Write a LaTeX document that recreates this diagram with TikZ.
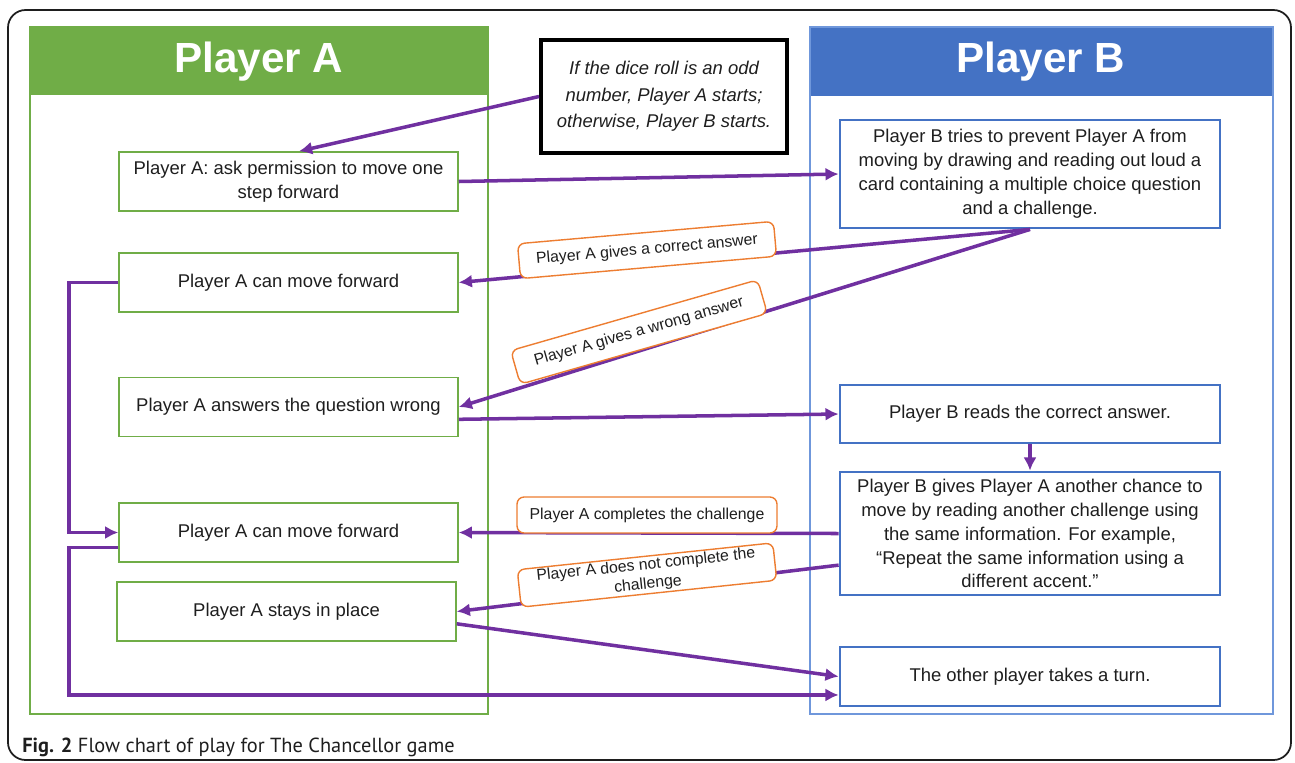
\documentclass[tikz,border=0pt]{standalone}
\usepackage{fontspec}
\setmainfont{Liberation Sans}
\newfontfamily\capfont{PT Sans}
\usetikzlibrary{arrows.meta}

\definecolor{agreen}{HTML}{70AD47}
\definecolor{bblue}{HTML}{4472C4}
\definecolor{bline}{HTML}{6F97DB}
\definecolor{fpurple}{HTML}{7030A0}
\definecolor{lorange}{HTML}{ED7D31}
\definecolor{ink}{HTML}{1E1E1E}

\begin{document}
\begin{tikzpicture}[x=.02cm,y=-.02cm,>={Latex[length=7.5pt,width=7.5pt]},
  txt/.style={font=\fontsize{10.5}{13.6}\selectfont,text=ink,align=center},
  abox/.style={txt,draw=agreen,line width=.9pt,minimum width=6.78cm,minimum height=1.18cm},
  bbox/.style={txt,draw=bblue,line width=1.6pt,minimum width=7.6cm},
  answer/.style={draw=lorange,fill=white,rounded corners=4pt,line width=.8pt,
    minimum width=5.14cm,minimum height=.7cm,inner sep=1pt,text=ink,align=center,
    font=\fontsize{9}{10}\selectfont},
  flow/.style={->,draw=fpurple,line width=2pt}]
 \useasboundingbox (0,0) rectangle (1295,762);
 % frame and the two columns
 \draw[line width=1pt,ink,rounded corners=10pt] (8,10) rectangle (1291,760);
 \fill[agreen] (30,27) rectangle (488,95);
 \draw[agreen,line width=.7pt] (30,27) rectangle (488,714);
 \fill[bblue] (810,27) rectangle (1273,96);
 \draw[bline,line width=.7pt] (810,27) rectangle (1273,714);
 \node[font=\bfseries\fontsize{24}{24}\selectfont,text=white] (hdra) at (259,62) {Player A};
 \node[font=\bfseries\fontsize{24}{24}\selectfont,text=white] (hdrb) at (1041,62) {Player B};

 \node[draw=black,line width=2.3pt,minimum width=4.92cm,minimum height=2.26cm,align=center,
   text=ink,font=\itshape\fontsize{10.5}{15}\selectfont] (dice) at (664,96.5)
   {If the dice roll is an odd\\number, Player A starts;\\otherwise, Player B starts.};

 % player A
 \node[abox] (a1) at (288.5,181.5) {Player A: ask permission to move one\\step forward};
 \node[abox] (a2) at (288.5,282.5) {Player A can move forward};
 \node[abox] (a3) at (288.5,407) {Player A answers the question wrong};
 \node[abox] (a4) at (288.5,532.5) {Player A can move forward};
 \node[abox] (a5) at (286.5,611.5) {Player A stays in place};

 % player B
 \node[bbox,minimum height=2.16cm] (b1) at (1030,174) {Player B tries to prevent Player A from\\moving by drawing and reading out loud a\\card containing a multiple choice question\\and a challenge.};
 \node[bbox,minimum height=1.16cm] (b2) at (1030,414) {Player B reads the correct answer.};
 \node[bbox,minimum height=2.46cm] (b3) at (1030,533.5) {Player B gives Player A another chance to\\move by reading another challenge using\\the same information. For example,\\“Repeat the same information using a\\different accent.”};
 \node[bbox,minimum height=1.18cm] (b4) at (1030,676.5) {The other player takes a turn.};

 % connectors
 \draw[flow] (dice.west) -- ([xshift=6pt]a1.north);
 \draw[flow] (a1.east) -- (b1.west);
 \draw[flow] (b1.south) -- (a2.east);
 \draw[flow] (b1.south) -- (a3.east);
 \draw[flow] ([yshift=-7pt]a3.east) -- (b2.west);
 \draw[flow] (b2.south) -- (b3.north);
 \draw[flow] (b3.west) -- (a4.east);
 \draw[flow] ([yshift=-18pt]b3.west) -- (a5.east);
 \draw[flow] ([yshift=-7pt]a5.east) -- (b4.west);
 \draw[flow] (a2.west) -- ++(-49,0) |- (a4.west);
 \draw[flow] ([yshift=-8.5pt]a4.west) -- ++(-49,0) |- ([yshift=-10.5pt]b4.west);

 % answers on the connectors
 \node[answer,rotate=5] (right) at (647,250) {Player A gives a correct answer};
 \node[answer,rotate=16] (wrong) at (639,332) {Player A gives a wrong answer};
 \node[answer,minimum width=5.2cm,minimum height=.72cm] (done) at (647,515) {Player A completes the challenge};
 \node[answer,rotate=6,font=\fontsize{9}{11}\selectfont] (notdone) at (647,575) {Player A does not complete the\\challenge};

 \node[anchor=base west,inner sep=0,text=ink,font=\capfont\fontsize{11.6}{13}\selectfont] (cap) at (22,752)
   {\textbf{Fig. 2} Flow chart of play for The Chancellor game};
\end{tikzpicture}
\end{document}
